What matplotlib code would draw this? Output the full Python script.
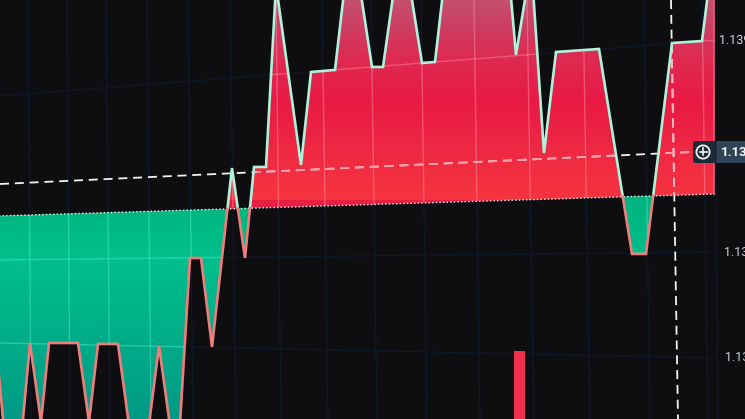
import numpy as np
import matplotlib
matplotlib.use("Agg")
import matplotlib.pyplot as plt
from matplotlib.colors import LinearSegmentedColormap
from matplotlib.patches import Circle, FancyBboxPatch, Rectangle
from matplotlib.path import Path

plt.rcParams["font.family"] = ["Roboto", "DejaVu Sans"]

# price line, x is the position along the time axis
line_x = [-4, 6, 20, 30, 41, 49, 78, 89, 98, 118, 131, 147, 159, 172, 179, 190, 201, 212,
          232, 245, 254, 266, 276, 301, 311, 335, 346, 358, 372, 383, 396, 408, 422, 435,
          445, 509, 516, 529, 532, 544, 556, 599, 632, 646, 672, 702, 709, 714]
line_y = [1.136155, 1.135132, 1.135132, 1.136155, 1.135413, 1.136155, 1.136155, 1.135413,
          1.136146, 1.136146, 1.135244, 1.135244, 1.136127, 1.135244, 1.135244, 1.136953,
          1.136953, 1.136118, 1.137798, 1.136953, 1.137808, 1.137808, 1.139517, 1.137827,
          1.138700, 1.138719, 1.139611, 1.139611, 1.138747, 1.138747, 1.139611, 1.139611,
          1.138784, 1.138794, 1.139611, 1.139611, 1.138860, 1.139611, 1.139611, 1.137939,
          1.138888, 1.138916, 1.136991, 1.136991, 1.138972, 1.138991, 1.139517, 1.139517]

# baseline the fill starts from
base_x = [-5, 715]
base_y = [1.137347, 1.137554]

# grid
grid_x_top = [28, 67, 106, 147, 188, 230, 276, 322, 371, 421, 474, 527, 583, 644, 702, 714]
grid_x_bottom = [31, 70, 110, 151, 193, 236, 281, 328, 377, 427, 480, 534, 590, 650, 708, 718]
grid_y_left = [1.138475, 1.136935, 1.136155]
grid_y_right = [1.139000, 1.137010, 1.136014]

# crosshair
cross_x = [671, 678]
cross_y = [1.137648, 1.137949]
cross_label = "1.13"

# volume bar
bar_x = [519.5]
bar_top = [1.136080]

tick_labels = ["1.139", "1.13", "1.13"]
tick_y = [1.139000, 1.137000, 1.136015]
tick_x = [719, 724, 725]

x_min, x_max = 0, 745
y_min, y_max = 1.135441, 1.139376
BG = "#0e0e10"
GRID = "#10162a"
DASH = (0, (5, 3.2))

fig = plt.figure(figsize=(7.45, 4.19), dpi=100, facecolor=BG)
ax = fig.add_axes([0, 0, 1, 1], facecolor=BG)


def base_at(x):
    return np.interp(x, base_x, base_y)


# add the points where the line crosses the baseline
xs, ys = [line_x[0]], [line_y[0]]
for i in range(len(line_x) - 1):
    d0 = line_y[i] - base_at(line_x[i])
    d1 = line_y[i + 1] - base_at(line_x[i + 1])
    if d0 * d1 < 0:
        t = d0 / (d0 - d1)
        xc = line_x[i] + t * (line_x[i + 1] - line_x[i])
        xs.append(xc)
        ys.append(float(base_at(xc)))
    xs.append(line_x[i + 1])
    ys.append(line_y[i + 1])
xs, ys = np.array(xs), np.array(ys)
bs = base_at(xs)
eps = 1e-9

# dark grid under everything
for top, bottom in zip(grid_x_top, grid_x_bottom):
    ax.plot([top, bottom], [y_max, y_min], color=GRID, lw=1, zorder=1)
for left, right in zip(grid_y_left, grid_y_right):
    ax.plot([x_min, 717], [left, right], color=GRID, lw=1, zorder=1)

ax.bar(bar_x, [t - y_min for t in bar_top], width=11, bottom=y_min, color="#f0304a", zorder=2)

# filled areas with a vertical gradient
up = ax.fill_between(xs, ys, bs, where=ys >= bs - eps, color="#e81f45", lw=0, zorder=2)
down = ax.fill_between(xs, ys, bs, where=ys <= bs + eps, color="#00b485", lw=0, zorder=2)
up_path = Path.make_compound_path(*up.get_paths())
down_path = Path.make_compound_path(*down.get_paths())

red_map = LinearSegmentedColormap.from_list(
    "red_fill", [(0, "#c4506e"), (0.16, "#cf3a60"), (0.3, "#df2a50"), (0.5, "#e81a45"),
                 (0.8, "#f02b42"), (1, "#f6343f")])
green_map = LinearSegmentedColormap.from_list(
    "green_fill", [(0, "#00b27c"), (0.3, "#00bf8c"), (0.6, "#00b088"), (1, "#009a86")])
ramp = np.linspace(0, 1, 256).reshape(-1, 1)
red_im = ax.imshow(ramp, cmap=red_map, aspect="auto", zorder=3,
                   extent=[x_min, x_max, 1.137500, y_max], origin="upper")
red_im.set_clip_path(up_path, ax.transData)
green_im = ax.imshow(ramp, cmap=green_map, aspect="auto", zorder=3,
                     extent=[x_min, x_max, y_min, 1.137600], origin="upper")
green_im.set_clip_path(down_path, ax.transData)

# grid shows lighter through the fill
for clip, colour in ((up_path, "#ff8fa8"), (down_path, "#4ff0d0")):
    for top, bottom in zip(grid_x_top[:-1], grid_x_bottom[:-1]):
        gl, = ax.plot([top, bottom], [y_max, y_min], color=colour, lw=1, alpha=0.45, zorder=4)
        gl.set_clip_path(clip, ax.transData)
    for left, right in zip(grid_y_left, grid_y_right):
        gl, = ax.plot([x_min, 717], [left, right], color=colour, lw=1, alpha=0.45, zorder=4)
        gl.set_clip_path(clip, ax.transData)

# crosshair
ax.plot(cross_x, [y_max, y_min], color="#f2f2f2", lw=1.3, ls=DASH, zorder=5)
ax.plot([x_min, 693], cross_y, color="#f2f2f2", lw=1.3, ls=DASH, zorder=5)
vl, = ax.plot(cross_x, [y_max, y_min], color="#ffb4bc", lw=1.3, ls=DASH, zorder=5)
hl, = ax.plot([x_min, 693], cross_y, color="#ff9aa8", lw=1.3, ls=DASH, zorder=5)
vl.set_clip_path(up_path, ax.transData)
hl.set_clip_path(up_path, ax.transData)

# dotted baseline
ax.plot(base_x, base_y, color="#f4f4f4", lw=1, ls=(0, (1, 1.6)), zorder=6)

# outline: mint above the baseline, salmon below
ax.plot(xs, np.where(ys >= bs - eps, ys, np.nan), color="#aef2dc", lw=1.9, zorder=7,
        solid_joinstyle="miter")
ax.plot(xs, np.where(ys <= bs + eps, ys, np.nan), color="#ef7d7c", lw=1.9, zorder=7,
        solid_joinstyle="miter")
ax.plot([line_x[-1], line_x[-1]], [line_y[-1], base_y[-1]], color="#ea5f7c", lw=1.2, zorder=7)

ax.set_xlim(x_min, x_max)
ax.set_ylim(y_min, y_max)
ax.axis("off")

# right scale, cut by the edge just as in the reference
for x, y, label in zip(tick_x, tick_y, tick_labels):
    ax.text(x, y, label, color="#c9d3dc", fontsize=9, va="center", ha="left", zorder=8)

# crosshair price tag on an overlay in pixel units
tag_ax = fig.add_axes([0, 0, 1, 1], facecolor="none")
tag_ax.set_xlim(0, 745)
tag_ax.set_ylim(419, 0)
tag_ax.axis("off")
tag_ax.add_patch(FancyBboxPatch((693, 141), 70, 22, boxstyle="round,pad=0,rounding_size=3",
                                facecolor="#2f4456", edgecolor="none"))
tag_ax.add_patch(FancyBboxPatch((693, 141), 24, 22, boxstyle="round,pad=0,rounding_size=3",
                                facecolor="#1d2b39", edgecolor="none"))
tag_ax.add_patch(Rectangle((710, 141), 7, 22, facecolor="#1d2b39", edgecolor="none"))
tag_ax.add_patch(Circle((703, 152), 6.6, facecolor="none", edgecolor="#f2f4f6", lw=1.3))
tag_ax.plot([699.5, 706.5], [152, 152], color="#f2f4f6", lw=1.2)
tag_ax.plot([703, 703], [148.5, 155.5], color="#f2f4f6", lw=1.2)
tag_ax.text(721, 152, cross_label, color="#f4f6f8", fontsize=9.5, fontweight="bold",
            va="center", ha="left")

fig.savefig("out.png", dpi=100, facecolor=BG)
